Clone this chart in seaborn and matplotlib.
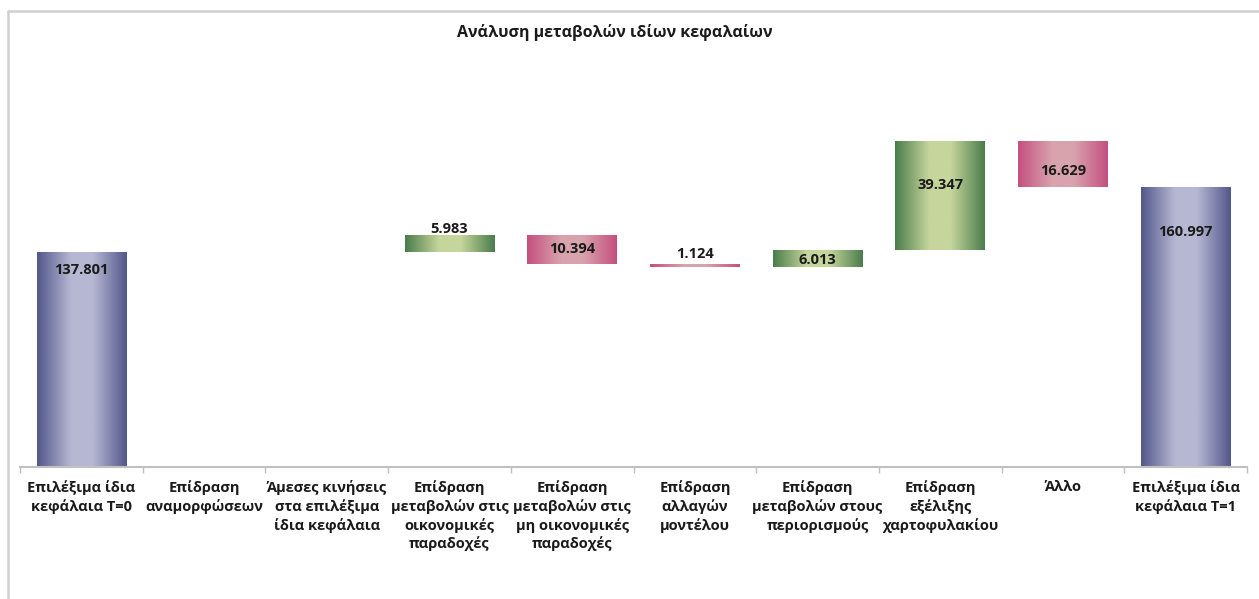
import numpy as np
import pandas as pd
import matplotlib
matplotlib.use("Agg")
import matplotlib.pyplot as plt
from matplotlib.colors import LinearSegmentedColormap
from matplotlib.lines import Line2D
import seaborn as sns

# waterfall data (values in thousands, shown with '.' as thousands separator)
categories = [
    "Επιλέξιμα ίδια\nκεφάλαια T=0",
    "Επίδραση\nαναμορφώσεων",
    "Άμεσες κινήσεις\nστα επιλέξιμα\nίδια κεφάλαια",
    "Επίδραση\nμεταβολών στις\nοικονομικές\nπαραδοχές",
    "Επίδραση\nμεταβολών στις\nμη οικονομικές\nπαραδοχές",
    "Επίδραση\nαλλαγών\nμοντέλου",
    "Επίδραση\nμεταβολών στους\nπεριορισμούς",
    "Επίδραση\nεξέλιξης\nχαρτοφυλακίου",
    "Άλλο",
    "Επιλέξιμα ίδια\nκεφάλαια T=1",
]
values = [137801, 0, 0, 5983, -10394, -1124, 6013, 39347, -16629, 160997]
kinds = ["total", "delta", "delta", "delta", "delta", "delta", "delta", "delta", "delta", "total"]

# label offsets from the bar top, in points (Excel put them rather loosely)
label_dy = [-13, 0, 0, 4, -10, 7, -7, -31, -21, -32]

sns.set_theme(style="white")
plt.rcParams["font.family"] = ["Open Sans", "DejaVu Sans"]

# running totals -> bottoms / tops
bottoms, tops = [], []
level = 0
for v, k in zip(values, kinds):
    if k == "total":
        bottoms.append(0)
        tops.append(v)
        level = v
    else:
        bottoms.append(min(level, level + v))
        tops.append(max(level, level + v))
        level = level + v

df = pd.DataFrame({"cat": categories, "top": tops, "bottom": bottoms,
                   "value": values, "kind": kinds})

fig = plt.figure(figsize=(12.59, 5.99), dpi=100)
ax = fig.add_axes([0.0159, 0.2212, 0.9746, 0.6458])

sns.barplot(data=df, x="cat", y="top", color="white", width=0.73, ax=ax,
            linewidth=0, saturation=1)

ymin, ymax = 60000, 200000

def cmap_for(v, k):
    if k == "total":
        dark, light = "#53578a", "#b6b8d3"
    elif v >= 0:
        dark, light = "#4a7c4b", "#c6d69c"
    else:
        dark, light = "#c4507f", "#d8a3ad"
    return LinearSegmentedColormap.from_list(
        "g", [(0, dark), (0.38, light), (0.62, light), (1, dark)])

grad = np.linspace(0, 1, 256).reshape(1, -1)
for patch, b, t, v, k, dy in zip(ax.patches, df["bottom"], df["top"],
                                 df["value"], df["kind"], label_dy):
    if v == 0:
        patch.set_visible(False)
        continue
    patch.set_y(b)
    patch.set_height(t - b)
    x0 = patch.get_x()
    x1 = x0 + patch.get_width()
    im = ax.imshow(grad, extent=[x0, x1, max(b, ymin), t], aspect="auto",
                   cmap=cmap_for(v, k), zorder=2, interpolation="bilinear")
    im.set_clip_path(patch)
    ax.annotate(f"{abs(v):,}".replace(",", "."), ((x0 + x1) / 2, t),
                xytext=(0, dy), textcoords="offset points",
                ha="center", va="center", fontsize=10.5, fontweight="bold",
                color="#1a1a1a", zorder=4)

ax.set_xlim(-0.5, len(categories) - 0.5)
ax.set_ylim(ymin, ymax)
ax.set_xlabel("")
ax.set_ylabel("")
ax.set_yticks([])
for s in ["top", "right", "left"]:
    ax.spines[s].set_visible(False)
ax.spines["bottom"].set_color("#c0c0c0")
ax.spines["bottom"].set_linewidth(1.5)

ax.set_xticks(range(len(categories)))
ax.set_xticklabels(categories, fontsize=10.5, fontweight="bold",
                   color="#1a1a1a", linespacing=1.33, va="top")
ax.set_xticks(np.arange(-0.5, len(categories)), minor=True)
ax.tick_params(axis="x", which="major", length=0, pad=10)
ax.tick_params(axis="x", which="minor", length=4, width=1, color="#c0c0c0",
               direction="out", bottom=True)

fig.text(0.488, 0.945, "Ανάλυση μεταβολών ιδίων κεφαλαίων", ha="center",
         va="center", fontsize=11.5, fontweight="bold", color="#1a1a1a")

# chart-area frame (only left and top edges are visible in the picture)
fig.add_artist(Line2D([7.5 / 1259, 7.5 / 1259], [0, 1 - 11 / 599],
                      transform=fig.transFigure, color="#d0d0d0", lw=1.8))
fig.add_artist(Line2D([7.5 / 1259, 1], [1 - 11 / 599, 1 - 11 / 599],
                      transform=fig.transFigure, color="#d0d0d0", lw=1.8))

fig.savefig("out.png", dpi=100)
